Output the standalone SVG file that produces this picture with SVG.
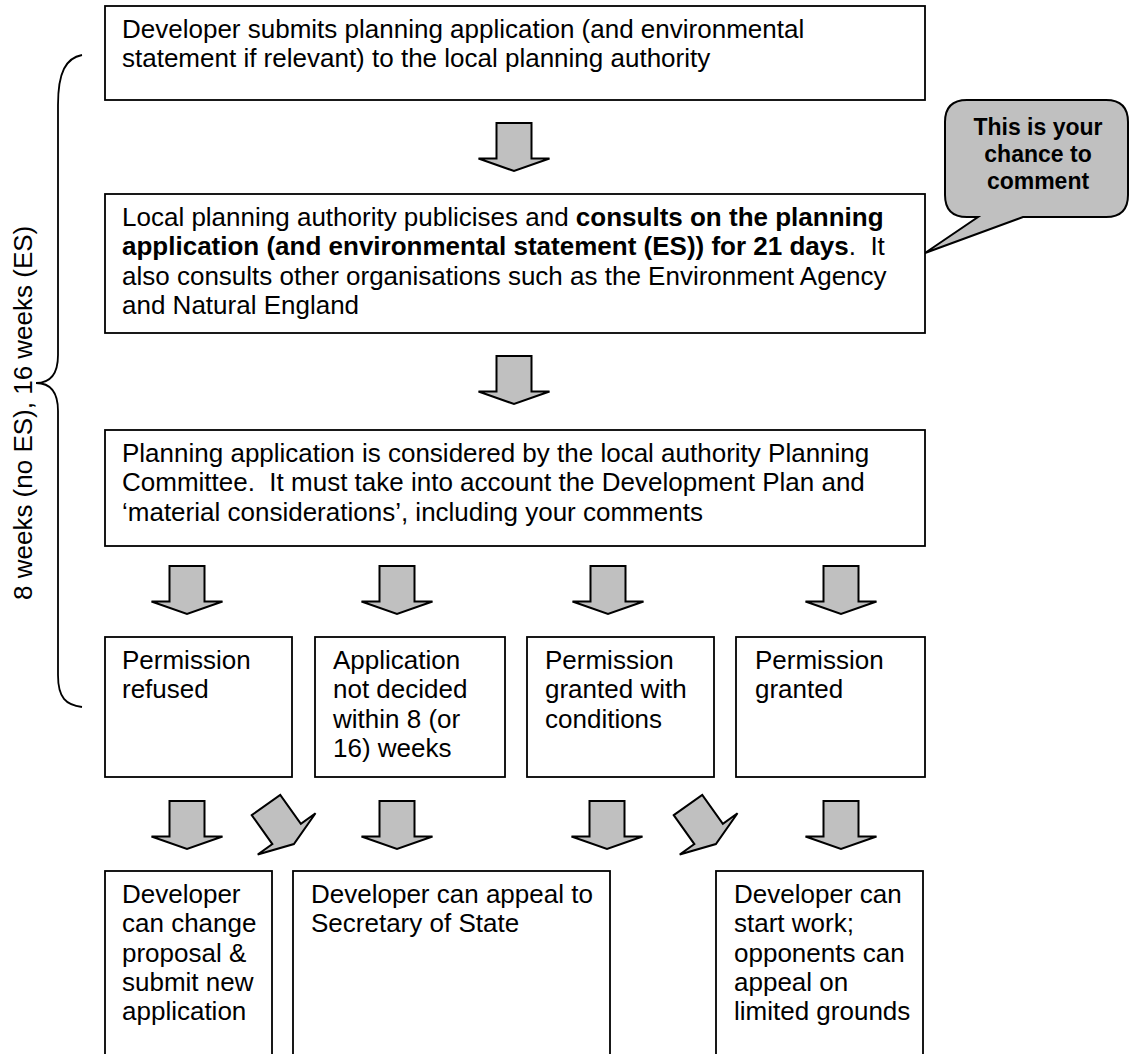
<svg xmlns="http://www.w3.org/2000/svg" xmlns:xlink="http://www.w3.org/1999/xlink" width="1130" height="1054" viewBox="0 0 1130 1054">
<style>
.box{fill:#fff;stroke:#000;stroke-width:1.8}
.t{font-family:"Liberation Sans",Arial,sans-serif;font-size:26px;fill:#000}
.b{font-weight:bold}
.bub{font-family:"Liberation Sans",Arial,sans-serif;font-size:23px;font-weight:bold;fill:#000;text-anchor:middle}
.arr{fill:#c0c0c0;stroke:#000;stroke-width:2;stroke-linejoin:miter}
.brace{fill:none;stroke:#000;stroke-width:1.8}
</style>
<defs>
<path id="barrow" class="arr" d="M-17.5,0 H17.5 V35.5 H35.5 L0,48 L-35.5,35.5 H-17.5 Z"/>
</defs>
<rect width="1130" height="1054" fill="#fff"/>

<g id="timeline">
<path class="brace" d="M82,55 C66,58 58,72 58,105 L58,355 C58,375 50,383 36,383 C50,383 58,391 58,411 L58,675 C58,698 66,705 82,707"/>
<text class="t" transform="translate(32,600) rotate(-90)">8 weeks (no ES), 16 weeks (ES)</text>
</g>

<g id="submit">
<rect class="box" x="105" y="6" width="820" height="94"/>
<text class="t" x="122" y="38">Developer submits planning application (and environmental</text>
<text class="t" x="122" y="67.3">statement if relevant) to the local planning authority</text>
</g>

<g id="comment-bubble">
<path d="M967,100 H1106 Q1128,100 1128,122 V195 Q1128,217 1106,217 H1023 L925,253 L978,217 H967 Q945,217 945,195 V122 Q945,100 967,100 Z" fill="#c0c0c0" stroke="#000" stroke-width="2"/>
<text class="bub" x="1038" y="135">This is your</text>
<text class="bub" x="1038" y="162">chance to</text>
<text class="bub" x="1038" y="189">comment</text>
</g>

<g id="consult">
<rect class="box" x="105" y="194" width="820" height="139"/>
<text class="t" x="122" y="226">Local planning authority publicises and <tspan class="b">consults on the planning</tspan></text>
<text class="t" x="122" y="255.3"><tspan class="b">application (and environmental statement (ES)) for 21 days</tspan>.&#160; It</text>
<text class="t" x="122" y="284.6">also consults other organisations such as the Environment Agency</text>
<text class="t" x="122" y="313.9">and Natural England</text>
</g>

<g id="committee">
<rect class="box" x="105" y="430" width="820" height="116"/>
<text class="t" x="122" y="462">Planning application is considered by the local authority Planning</text>
<text class="t" x="122" y="491.3">Committee.&#160; It must take into account the Development Plan and</text>
<text class="t" x="122" y="520.6">‘material considerations’, including your comments</text>
</g>

<g id="refused">
<rect class="box" x="105" y="637" width="187" height="140"/>
<text class="t" x="122" y="669">Permission</text>
<text class="t" x="122" y="698.3">refused</text>
</g>

<g id="not-decided">
<rect class="box" x="315" y="637" width="190" height="140"/>
<text class="t" x="333" y="669">Application</text>
<text class="t" x="333" y="698.3">not decided</text>
<text class="t" x="333" y="727.6">within 8 (or</text>
<text class="t" x="333" y="756.9">16) weeks</text>
</g>

<g id="granted-conditions">
<rect class="box" x="527" y="637" width="187" height="140"/>
<text class="t" x="545" y="669">Permission</text>
<text class="t" x="545" y="698.3">granted with</text>
<text class="t" x="545" y="727.6">conditions</text>
</g>

<g id="granted">
<rect class="box" x="736" y="637" width="189" height="140"/>
<text class="t" x="755" y="669">Permission</text>
<text class="t" x="755" y="698.3">granted</text>
</g>

<g id="new-application">
<rect class="box" x="105" y="871" width="167" height="200"/>
<text class="t" x="122" y="903">Developer</text>
<text class="t" x="122" y="932.3">can change</text>
<text class="t" x="122" y="961.6">proposal &amp;</text>
<text class="t" x="122" y="990.9">submit new</text>
<text class="t" x="122" y="1020.2">application</text>
</g>

<g id="appeal">
<rect class="box" x="293" y="871" width="317" height="200"/>
<text class="t" x="311" y="903">Developer can appeal to</text>
<text class="t" x="311" y="932.3">Secretary of State</text>
</g>

<g id="start-work">
<rect class="box" x="716" y="871" width="207" height="200"/>
<text class="t" x="734" y="903">Developer can</text>
<text class="t" x="734" y="932.3">start work;</text>
<text class="t" x="734" y="961.6">opponents can</text>
<text class="t" x="734" y="990.9">appeal on</text>
<text class="t" x="734" y="1020.2">limited grounds</text>
</g>

<g id="connectors">
<use xlink:href="#barrow" href="#barrow" transform="translate(514,123)"/>
<use xlink:href="#barrow" href="#barrow" transform="translate(514,356)"/>
<use xlink:href="#barrow" href="#barrow" transform="translate(187,566)"/>
<use xlink:href="#barrow" href="#barrow" transform="translate(397,566)"/>
<use xlink:href="#barrow" href="#barrow" transform="translate(608,566)"/>
<use xlink:href="#barrow" href="#barrow" transform="translate(841,566)"/>
<use xlink:href="#barrow" href="#barrow" transform="translate(187,801)"/>
<use xlink:href="#barrow" href="#barrow" transform="translate(266,805) rotate(-35.5)"/>
<use xlink:href="#barrow" href="#barrow" transform="translate(397,801)"/>
<use xlink:href="#barrow" href="#barrow" transform="translate(607,801)"/>
<use xlink:href="#barrow" href="#barrow" transform="translate(688,805) rotate(-35.5)"/>
<use xlink:href="#barrow" href="#barrow" transform="translate(841,801)"/>
</g>
</svg>
